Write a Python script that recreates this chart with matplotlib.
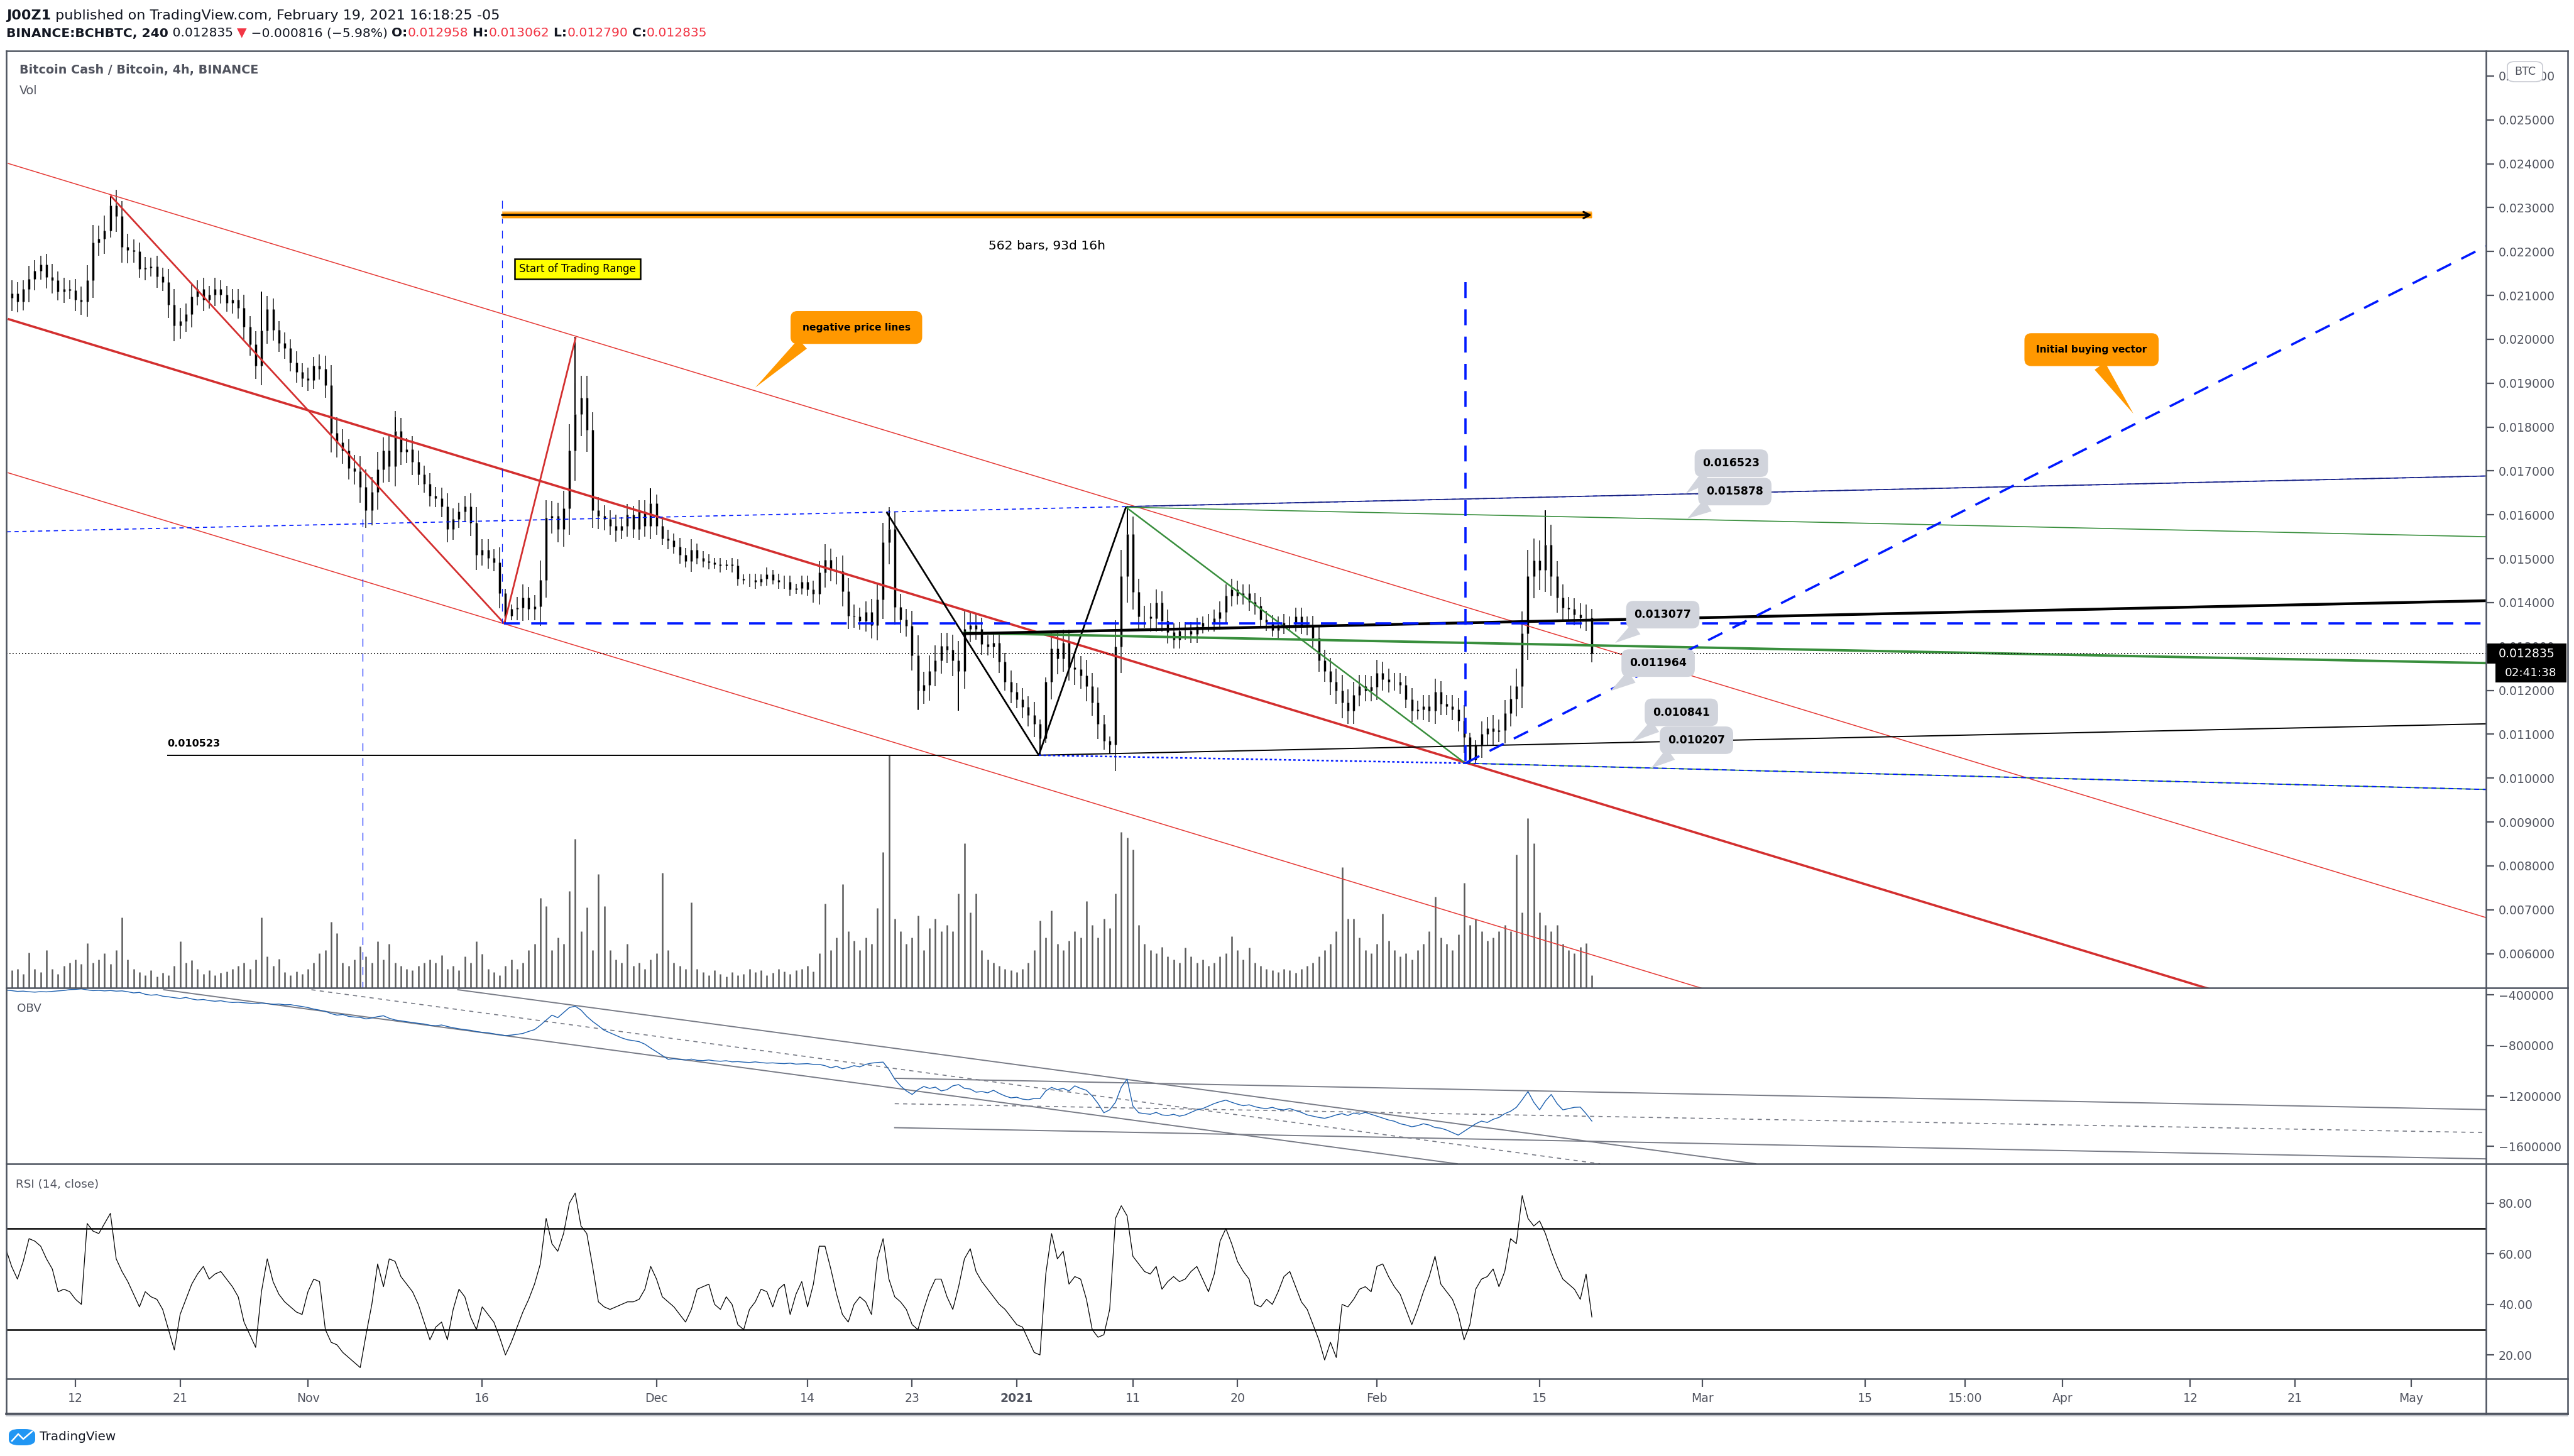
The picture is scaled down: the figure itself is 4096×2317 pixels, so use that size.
import numpy as np
import matplotlib
matplotlib.use('Agg')
import matplotlib.pyplot as plt
from matplotlib.lines import Line2D
from matplotlib.patches import Rectangle, FancyBboxPatch
from matplotlib.ticker import FuncFormatter

plt.rcParams['font.family'] = ['DejaVu Sans']

# ---------------- data (12h bars, x = days since 1 Oct 2020) ----------------
start_day = 5.0

# BCH/BTC close, in 1e-6 BTC
close = [
    20950, 21050, 20860, 21150, 21370, 21560, 21700, 21410, 21340, 21080, 21150, 21120, 20900, 20860, 21340, 22210, 22290, 22470, 23050, 22800,
    22100, 22030, 22000, 21600, 21630, 21660, 21430, 21300, 20790, 20310, 20420, 20570, 20970, 21150, 20900, 21010, 21150, 21010, 20830, 20900,
    20720, 20280, 19880, 19400, 20200, 20680, 20220, 19910, 19800, 19470, 19260, 19110, 19070, 19400, 19330, 18960, 17870, 17650, 17470, 17060,
    16990, 16630, 16110, 16520, 17030, 17470, 17100, 17910, 17430, 17500, 17210, 16920, 16700, 16440, 16370, 16190, 15680, 15900, 16080, 16190,
    15820, 15090, 15200, 15020, 14910, 14220, 13700, 13850, 13880, 14110, 13850, 13920, 14510, 15930, 15970, 15680, 16150, 17470, 18300, 18670,
    17940, 16110, 15970, 15900, 15750, 15640, 15750, 16000, 15680, 16080, 15750, 16260, 15750, 15460, 15420, 15270, 15090, 14950, 15200, 15020,
    14950, 14910, 14870, 14840, 14870, 14840, 14540, 14510, 14510, 14470, 14540, 14650, 14510, 14470, 14470, 14300, 14330, 14470, 14300, 14200,
    14690, 14980, 14740, 14720, 14260, 13700, 13680, 13590, 13780, 13490, 14070, 15370, 15670, 13900, 13610, 13470, 12800, 12000, 12120, 12440,
    12680, 13010, 12920, 12680, 12440, 13400, 13490, 13400, 13060, 12990, 13080, 12650, 12200, 11960, 11800, 11620, 11430, 11240, 10900, 12200,
    12960, 12720, 13080, 12530, 12480, 12340, 12100, 11720, 11240, 10850, 10760, 13000, 14600, 15560, 14240, 13680, 13680, 13640, 14000, 13590,
    13320, 13160, 13350, 13350, 13280, 13450, 13540, 13540, 13640, 13780, 14160, 14300, 14160, 14210, 14020, 13930, 13610, 13560, 13370, 13490,
    13540, 13540, 13680, 13490, 13450, 13200, 12680, 12440, 12200, 12000, 11720, 11530, 11890, 12100, 12000, 12080, 12400, 12250, 12200, 12200,
    12120, 11800, 11530, 11570, 11640, 11530, 11960, 11690, 11640, 11570, 11310, 10930, 10420, 10760, 11000, 11140, 11070, 11090, 11480, 11810,
    12100, 13300, 14600, 14960, 14740, 15320, 14600, 14120, 13880, 13850, 13730, 13660, 13660, 12835,
]

# total wick length of each bar beyond its body, in 1e-4 BTC
wick = [
    5, 6, 5, 4, 6, 5, 4, 5, 6, 4, 5, 4, 5, 6, 7, 8, 6, 7, 3, 7,
    7, 6, 5, 4, 5, 4, 5, 4, 6, 7, 6, 5, 6, 4, 5, 4, 5, 4, 4, 5,
    5, 6, 5, 6, 9, 6, 5, 4, 5, 4, 5, 4, 5, 4, 5, 6, 9, 7, 6, 5,
    6, 7, 8, 7, 8, 6, 7, 9, 6, 5, 6, 5, 4, 5, 4, 5, 6, 5, 4, 5,
    6, 7, 5, 5, 4, 7, 2, 2, 5, 6, 5, 5, 9, 8, 7, 6, 8, 12, 14, 10,
    10, 8, 6, 5, 4, 5, 4, 5, 4, 5, 5, 6, 4, 3, 4, 3, 4, 3, 5, 3,
    3, 3, 2, 3, 2, 3, 3, 2, 3, 3, 2, 3, 2, 3, 3, 3, 2, 3, 3, 4,
    5, 7, 5, 6, 7, 6, 5, 4, 5, 6, 7, 9, 10, 8, 6, 5, 7, 9, 6, 7,
    7, 6, 6, 7, 9, 8, 6, 5, 5, 4, 5, 5, 4, 5, 4, 5, 5, 6, 2, 2,
    8, 7, 6, 6, 7, 6, 7, 6, 7, 4, 2, 12, 12, 12, 8, 6, 5, 6, 6, 5,
    5, 4, 4, 4, 4, 4, 3, 4, 4, 5, 5, 5, 4, 4, 4, 4, 4, 4, 3, 4,
    4, 3, 4, 4, 4, 5, 5, 5, 6, 6, 7, 6, 6, 5, 5, 5, 6, 5, 5, 4,
    4, 4, 5, 4, 5, 5, 6, 5, 4, 5, 5, 7, 2, 2, 6, 5, 6, 5, 6, 6,
    8, 10, 12, 10, 9, 10, 9, 7, 6, 5, 5, 5, 6, 4,
]

# wick extremes of notable bars (day, price in 1e-6 BTC)
spike_day = [14.0, 27.0, 38.5, 54.0, 60.5, 81.0, 101.5, 137.5]
spike_high = [23270, 21080, 18220, 20060, 16600, 16100, 16200, 16100]
dip_day = [48.0, 83.5, 87.0, 94.0, 100.0, 131.0]
dip_low = [13523, 11570, 11530, 10523, 10550, 10350]

# volume (relative units)
volume = [
    20, 28, 30, 22, 56, 30, 25, 60, 30, 22, 35, 40, 45, 38, 71, 40, 45, 55, 38, 60,
    112, 45, 30, 25, 20, 28, 18, 24, 20, 35, 74, 40, 44, 30, 22, 28, 20, 24, 26, 30,
    35, 40, 30, 45, 112, 50, 35, 46, 25, 20, 26, 22, 30, 40, 55, 60, 105, 87, 40, 35,
    45, 66, 50, 40, 74, 45, 70, 40, 35, 30, 28, 35, 40, 45, 40, 52, 30, 35, 28, 50,
    40, 74, 54, 30, 25, 20, 35, 45, 30, 40, 60, 70, 143, 130, 60, 80, 70, 154, 237, 90,
    128, 60, 181, 130, 60, 45, 40, 70, 35, 40, 30, 45, 55, 183, 60, 40, 35, 30, 136, 30,
    25, 20, 28, 22, 18, 25, 20, 22, 30, 25, 28, 20, 24, 30, 26, 22, 28, 30, 35, 26,
    55, 134, 60, 80, 165, 90, 75, 60, 80, 70, 127, 216, 370, 110, 90, 70, 80, 115, 60, 95,
    110, 90, 100, 90, 150, 230, 120, 150, 60, 45, 40, 35, 30, 28, 25, 30, 40, 60, 107, 80,
    123, 70, 60, 75, 90, 80, 138, 100, 80, 110, 95, 150, 248, 239, 220, 100, 70, 60, 55, 65,
    50, 45, 40, 64, 50, 40, 45, 35, 40, 50, 55, 82, 60, 45, 64, 40, 35, 30, 28, 25,
    30, 28, 24, 30, 35, 40, 50, 60, 70, 90, 192, 110, 110, 80, 60, 55, 70, 118, 75, 60,
    50, 55, 45, 60, 70, 90, 145, 80, 70, 60, 85, 167, 100, 110, 90, 75, 80, 90, 100, 90,
    212, 120, 270, 230, 120, 100, 90, 100, 70, 60, 55, 65, 71, 20,
]

# on-balance volume, thousands
obv = [
    -362, -366, -372, -370, -375, -378, -374, -376, -372, -368, -365, -358, -356, -352, -360, -366, -364, -368, -365, -370,
    -368, -375, -384, -380, -395, -402, -398, -410, -415, -422, -428, -420, -432, -440, -436, -445, -450, -446, -455, -460,
    -458, -462, -466, -470, -464, -468, -475, -472, -478, -477, -485, -492, -500, -512, -520, -530, -548, -560, -555, -570,
    -575, -578, -590, -582, -572, -565, -585, -598, -605, -612, -618, -625, -630, -640, -644, -638, -650, -660, -668, -675,
    -680, -690, -696, -700, -708, -715, -722, -718, -712, -705, -689, -675, -640, -600, -560, -580, -540, -500, -489, -520,
    -570, -610, -644, -680, -700, -720, -740, -755, -762, -770, -790, -821, -850, -880, -910, -905, -912, -915, -908, -918,
    -920, -915, -922, -925, -921, -930, -928, -932, -935, -930, -936, -940, -938, -942, -944, -940, -948, -946, -944, -950,
    -950, -960, -977, -965, -985, -975, -960, -970, -950, -940, -935, -932, -990, -1066, -1120, -1160, -1188, -1150, -1125, -1140,
    -1130, -1160, -1150, -1120, -1110, -1140, -1145, -1170, -1165, -1175, -1155, -1180, -1200, -1215, -1210, -1225, -1230, -1220, -1221, -1160,
    -1132, -1150, -1140, -1160, -1120, -1140, -1155, -1200, -1260, -1333, -1310, -1250, -1130, -1066, -1280, -1333, -1340, -1345, -1330, -1350,
    -1355, -1345, -1360, -1350, -1330, -1310, -1300, -1280, -1260, -1245, -1233, -1250, -1265, -1277, -1270, -1285, -1295, -1300, -1290, -1305,
    -1310, -1300, -1315, -1330, -1350, -1360, -1370, -1377, -1365, -1350, -1340, -1355, -1335, -1344, -1330, -1345, -1360, -1375, -1390, -1400,
    -1420, -1430, -1444, -1435, -1420, -1430, -1450, -1455, -1470, -1490, -1510, -1480, -1450, -1420, -1399, -1410, -1385, -1370, -1340, -1321,
    -1290, -1230, -1165, -1250, -1310, -1240, -1188, -1260, -1310, -1300, -1290, -1288, -1340, -1399,
]

# RSI (14, close)
rsi = [
    62, 55, 50, 57, 66, 65, 63, 58, 54, 45, 46, 45, 42, 40, 72, 69, 68, 72, 76, 58,
    53, 49, 44, 39, 45, 43, 42, 38, 30, 22, 36, 42, 48, 52, 55, 50, 52, 53, 50, 47,
    43, 33, 28, 23, 45, 58, 49, 44, 41, 39, 37, 36, 45, 50, 49, 30, 25, 24, 21, 19,
    17, 15, 28, 40, 56, 47, 58, 57, 51, 48, 45, 40, 33, 26, 31, 33, 26, 38, 46, 43,
    35, 30, 39, 36, 33, 27, 20, 25, 31, 37, 42, 48, 56, 74, 64, 61, 68, 80, 84, 71,
    68, 55, 41, 39, 38, 39, 40, 41, 41, 42, 46, 55, 50, 43, 41, 39, 36, 33, 38, 46,
    47, 48, 40, 38, 43, 40, 32, 30, 38, 41, 46, 45, 39, 46, 48, 36, 44, 49, 39, 48,
    63, 63, 54, 44, 36, 33, 40, 43, 41, 36, 58, 66, 50, 43, 41, 38, 32, 30, 38, 45,
    50, 50, 43, 38, 47, 58, 62, 53, 49, 46, 43, 40, 38, 35, 32, 31, 26, 21, 20, 52,
    68, 58, 61, 48, 51, 50, 42, 30, 27, 28, 38, 74, 79, 75, 59, 56, 53, 52, 55, 46,
    49, 51, 49, 50, 53, 55, 50, 45, 52, 65, 70, 64, 57, 53, 50, 40, 39, 42, 40, 45,
    51, 53, 47, 41, 38, 32, 26, 18, 25, 19, 40, 39, 42, 46, 47, 45, 55, 56, 51, 47,
    44, 38, 32, 38, 45, 51, 59, 48, 45, 42, 36, 26, 32, 46, 50, 51, 54, 47, 53, 66,
    64, 83, 74, 71, 73, 68, 61, 55, 50, 48, 46, 42, 52, 35,
]

# time axis
tick_days = [11, 20, 31, 46, 61, 74, 83, 92, 102, 111, 123, 137, 151, 165, 173.6, 182, 193, 202, 212]
tick_text = ['12', '21', 'Nov', '16', 'Dec', '14', '23', '2021', '11', '20', 'Feb',
             '15', 'Mar', '15', '15:00', 'Apr', '12', '21', 'May']

price_ticks = [0.006 + 0.001 * i for i in range(21)]
obv_ticks = [-1600000, -1200000, -800000, -400000]
rsi_ticks = [20, 40, 60, 80]

# drawings: (day, price) points
red_upper = [(5.17, 0.024009), (218.45, 0.006823)]
red_mid = [(5.17, 0.020464), (218.45, 0.003278)]
red_low = [(5.17, 0.016960), (218.45, -0.000226)]
red_zigzag = [(14.0, 0.023276), (47.9, 0.013523), (54.05, 0.020045)]
blue_long = [(5.07, 0.015613), (218.45, 0.016885)]
navy_top = [(101.4, 0.016188), (218.45, 0.016885)]
green_top = [(101.4, 0.016174), (218.45, 0.015501)]
green_diag = [(101.4, 0.016174), (130.6, 0.010340)]
black_zigzag = [(80.8, 0.016062), (93.9, 0.010523), (101.4, 0.016174)]
support = [(18.9, 0.010523), (93.9, 0.010523)]
black_rise = [(93.9, 0.010523), (218.45, 0.011238)]
black_thick = [(87.4, 0.013291), (218.45, 0.014043)]
green_thick = [(87.4, 0.013310), (218.45, 0.012622)]
range_low = [(47.9, 0.013523), (218.45, 0.013523)]
buy_vector = [(130.6, 0.010340), (218.45, 0.022120)]
blue_dotted = [(93.9, 0.010523), (130.6, 0.010340)]
green_low = [(130.6, 0.010340), (218.45, 0.009742)]
vline_thin = [(35.7, 0.0159, 0.0052), (47.7, 0.02317, 0.013523)]
vline_thick = [(130.6, 0.02130, 0.010340)]
date_range = [(47.7, 0.022831), (141.5, 0.022831)]

price_callouts = [  # text, box centre, tip
    ('0.016523', (153.5, 0.017177), (149.6, 0.016492)),
    ('0.015878', (153.8, 0.016530), (149.7, 0.015913)),
    ('0.013077', (147.6, 0.013725), (143.5, 0.013082)),
    ('0.011964', (147.2, 0.012622), (143.1, 0.011986)),
    ('0.010841', (149.2, 0.011500), (145.0, 0.010834)),
    ('0.010207', (150.5, 0.010864), (146.6, 0.010228)),
]

obv_lines = [
    [(18.6, -359e3), (129.9, -1737e3)],
    [(43.9, -359e3), (155.6, -1737e3)],
    [(81.5, -1060e3), (218.45, -1308e3)],
    [(81.5, -1451e3), (218.45, -1698e3)],
]
obv_dashed = [
    [(31.3, -359e3), (142.2, -1737e3)],
    [(81.5, -1261e3), (218.45, -1490e3)],
]

# ---------------- layout ----------------
W, H = 4096.0, 2317.0
fig = plt.figure(figsize=(W / 200, H / 200), dpi=200)
fig.patch.set_facecolor('white')


def fx(px):
    return px / W


def fy(py):
    return 1 - py / H


X0, X1, XR = 10, 3956, 4086
Y_TOP, Y_PRICE, Y_OBV, Y_RSI, Y_TIME = 81, 1572, 1852, 2194, 2250
AXC = '#50535e'
FRAME = '#4c525e'


def pane(ytop, ybot, **kw):
    return fig.add_axes([fx(X0), fy(ybot), (X1 - X0) / W, (ybot - ytop) / H], **kw)


ax = pane(Y_TOP, Y_PRICE)
ax_obv = pane(Y_PRICE, Y_OBV, sharex=ax)
ax_rsi = pane(Y_OBV, Y_RSI, sharex=ax)
ax_t = pane(Y_RSI, Y_TIME, sharex=ax)
ax_vol = ax.twinx()
ax_vol.axis('off')
ax.set_zorder(ax_vol.get_zorder() + 1)
ax.patch.set_visible(False)

for a in (ax, ax_obv, ax_rsi, ax_t):
    for s in a.spines.values():
        s.set_visible(False)
    a.tick_params(axis='x', bottom=False, labelbottom=False)

ax.set_xlim(5.04, 218.45)
ax.set_ylim(0.005222, 0.026571)
ax_obv.set_ylim(-1737e3, -344e3)
ax_rsi.set_ylim(10.6, 95.6)
ax_t.set_ylim(0, 1)
ax_t.set_yticks([])

for a in (ax, ax_obv, ax_rsi):
    a.yaxis.tick_right()
    a.tick_params(axis='y', right=True, left=False, direction='out', length=4.7, width=0.8,
                  color=AXC, labelsize=6.8, labelcolor=AXC, pad=2.5)
ax.set_yticks(price_ticks)
ax.yaxis.set_major_formatter(FuncFormatter(lambda v, p: f'{v:.6f}'))
ax_obv.set_yticks(obv_ticks)
ax_obv.yaxis.set_major_formatter(FuncFormatter(lambda v, p: f'{int(v)}'.replace('-', '\u2212')))
ax_rsi.set_yticks(rsi_ticks)
ax_rsi.yaxis.set_major_formatter(FuncFormatter(lambda v, p: f'{v:.2f}'))

ax_t.set_xticks(tick_days)
ax_t.tick_params(axis='x', top=True, bottom=False, direction='in', length=4.7, width=0.8,
                 color=AXC, labeltop=False, labelbottom=False)
for d, s in zip(tick_days, tick_text):
    ax_t.text(d, 0.43, s, ha='center', va='center', fontsize=6.8, color=AXC,
              fontweight='bold' if s == '2021' else 'normal',
              transform=ax_t.get_xaxis_transform())

# ---------------- price bars + volume ----------------
c = np.array(close) / 1e6
days = start_day + 0.5 * np.arange(len(c))
assert len(volume) == len(c) and len(obv) == len(c) and len(rsi) == len(c) and len(wick) == len(c), \
    (len(c), len(volume), len(obv), len(rsi), len(wick))

ax_vol.set_ylim(0, max(volume) * 4.03)
ax_vol.vlines(days, 0, volume, color='#5a5a5a', lw=0.9)

o = np.concatenate([[c[0]], c[:-1]])
body_lo = np.minimum(o, c)
body_hi = np.maximum(o, c)
w = np.array(wick) / 1e4 / 2
ax.vlines(days, body_lo - w, body_hi + w, color='#222222', lw=0.55, zorder=3)
ax.vlines(days, body_lo, body_hi, color='black', lw=1.25, zorder=3)
idx = ((np.array(spike_day) - start_day) / 0.5).astype(int)
ax.vlines(spike_day, c[idx], np.array(spike_high) / 1e6, color='black', lw=0.7, zorder=3)
idx = ((np.array(dip_day) - start_day) / 0.5).astype(int)
ax.vlines(dip_day, np.array(dip_low) / 1e6, c[idx], color='black', lw=0.7, zorder=3)


def draw(pts, **kw):
    xs, ys = zip(*pts)
    ax.plot(xs, ys, solid_capstyle='butt', **kw)


RED = '#e53935'
BLUE = '#0019ff'
GREEN = '#388e3c'
draw(red_upper, color=RED, lw=0.55, zorder=4)
draw(red_low, color=RED, lw=0.55, zorder=4)
draw(red_mid, color='#d32f2f', lw=1.3, zorder=4)
draw(red_zigzag, color='#d32f2f', lw=1.0, zorder=4)
draw(blue_long, color=BLUE, lw=0.6, dashes=(4, 3.5), zorder=4)
draw(navy_top, color='#1a237e', lw=0.6, zorder=4)
draw(green_top, color=GREEN, lw=0.6, zorder=4)
draw(green_diag, color=GREEN, lw=0.9, zorder=4)
draw(black_zigzag, color='black', lw=1.0, zorder=4)
draw(support, color='black', lw=0.7, zorder=4)
draw(black_rise, color='black', lw=0.7, zorder=4)
draw(green_thick, color=GREEN, lw=1.4, zorder=4)
draw(black_thick, color='black', lw=1.6, zorder=4)
draw(range_low, color=BLUE, lw=1.3, dashes=(7, 5), zorder=5)
draw(buy_vector, color=BLUE, lw=1.3, dashes=(7, 5), zorder=5)
draw(blue_dotted, color=BLUE, lw=0.9, dashes=(1.5, 1.5), zorder=4)
draw(green_low, color=GREEN, lw=0.6, zorder=4)
draw(green_low, color=BLUE, lw=0.7, dashes=(4, 3), zorder=4)
for d, p0, p1 in vline_thin:
    ax.plot([d, d], [p0, p1], color=BLUE, lw=0.45, dashes=(10, 9), zorder=4)
for d, p0, p1 in vline_thick:
    ax.plot([d, d], [p0, p1], color=BLUE, lw=1.3, dashes=(7, 5), zorder=5)

last = c[-1]
ax.axhline(last, color='black', lw=0.6, dashes=(1, 2), zorder=4)

# date range measure
(dr0, drp), (dr1, _) = date_range
ax.plot([dr0, dr1], [drp, drp], color='#ffd59a', lw=4.4, solid_capstyle='butt', zorder=5)
ax.plot([dr0, dr1], [drp, drp], color='#ff9800', lw=3.2, solid_capstyle='butt', zorder=5)
ax.annotate('', xy=(dr1, drp), xytext=(dr0, drp),
            arrowprops=dict(arrowstyle='->', color='black', lw=1.1, mutation_scale=9,
                            shrinkA=0, shrinkB=0), zorder=6)
ax.text((dr0 + dr1) / 2, 0.022120, '562 bars, 93d 16h', ha='center', va='center',
        fontsize=7.3, color='black', zorder=6)

ax.text(54.2, 0.021601, 'Start of Trading Range', ha='center', va='center', fontsize=6.0,
        color='black', zorder=6,
        bbox=dict(boxstyle='square,pad=0.4', fc='#ffff00', ec='black', lw=0.9))

ax.text(support[0][0], 0.010789, f'{support[0][1]:.6f}', ha='left', va='center',
        fontsize=5.8, fontweight='bold', color='black', zorder=6)


def callout(text, box, tip, fc, size, pad, rel):
    ax.annotate(text, xy=tip, xytext=box, ha='center', va='center', fontsize=size,
                fontweight='bold', color='black', zorder=7,
                bbox=dict(boxstyle=f'round,pad={pad},rounding_size=0.7', fc=fc, ec='none'),
                arrowprops=dict(arrowstyle='wedge,tail_width=1.3,shrink_factor=0.5', fc=fc,
                                ec='none', shrinkA=0, shrinkB=0, relpos=rel))


callout('negative price lines', (78.2, 0.020269), (69.5, 0.018900), '#ff9800', 5.6, 1.2, (0.12, 0.0))
callout('Initial buying vector', (184.5, 0.019764), (188.1, 0.018306), '#ff9800', 5.6, 1.2, (0.5, 0.0))
for t, box, tip in price_callouts:
    callout(t, box, tip, '#d1d4dc', 6.2, 0.75, (0.25, 0.0))

# ---------------- OBV ----------------
ax_obv.plot(days, np.array(obv) * 1000, color='#1c5fae', lw=0.5, zorder=3)
for pts in obv_lines:
    xs, ys = zip(*pts)
    ax_obv.plot(xs, ys, color='#787b86', lw=0.7, zorder=2)
for pts in obv_dashed:
    xs, ys = zip(*pts)
    ax_obv.plot(xs, ys, color='#787b86', lw=0.6, dashes=(4, 4), zorder=2)

# ---------------- RSI ----------------
ax_rsi.plot(days, rsi, color='black', lw=0.45, zorder=3)
for lvl in (70, 30):
    ax_rsi.axhline(lvl, color='black', lw=0.9, zorder=2)


# ---------------- frame ----------------
def fline(x0, y0, x1, y1, lw=0.9, color=FRAME):
    fig.add_artist(Line2D([fx(x0), fx(x1)], [fy(y0), fy(y1)], transform=fig.transFigure,
                          color=color, lw=lw, zorder=8))


fline(X0, Y_TOP, XR, Y_TOP)
fline(X0, Y_TOP, X0, Y_TIME)
fline(XR, Y_TOP, XR, Y_TIME)
fline(X1, Y_TOP, X1, Y_TIME)
for yy in (Y_PRICE, Y_OBV, Y_RSI):
    fline(X0, yy, XR, yy)
fline(X0, Y_TIME, XR, Y_TIME, lw=1.3)
fline(X0, Y_TIME + 3, XR, Y_TIME + 3, lw=0.6, color='#b2b5be')

# current price + countdown boxes on the scale
fig.canvas.draw()
ypx = ax.transData.transform((ax.get_xlim()[0], last))[1]
fig.add_artist(Rectangle((fx(3958), (ypx - 16) / H), fx(4084 - 3958), 32 / H,
                         transform=fig.transFigure, fc='black', ec='none', zorder=9))
fig.text(fx(3976), ypx / H, f'{last:.6f}', color='white', fontsize=6.8, va='center',
         ha='left', zorder=10)
fig.add_artist(Rectangle((fx(3971), (ypx - 46) / H), fx(4084 - 3971), 30 / H,
                         transform=fig.transFigure, fc='black', ec='none', zorder=9))
fig.text(fx(3986), (ypx - 31) / H, '02:41:38', color='white', fontsize=6.6, va='center',
         ha='left', zorder=10)

fig.add_artist(FancyBboxPatch((fx(3990), fy(130)), fx(56), 32 / H,
                              boxstyle='round,pad=0,rounding_size=0.003',
                              transform=fig.transFigure, fc='white', ec='#c9cbd3', lw=0.6, zorder=9))
fig.text(fx(4018), fy(114), 'BTC', color=AXC, fontsize=6.3, ha='center', va='center', zorder=10)

# ---------------- texts ----------------
fig.text(fx(31), fy(112), 'Bitcoin Cash / Bitcoin, 4h, BINANCE', fontsize=6.9,
         fontweight='bold', color=AXC, va='center')
fig.text(fx(31), fy(144), 'Vol', fontsize=6.9, color=AXC, va='center')
fig.text(fx(27), fy(1605), 'OBV', fontsize=6.6, color=AXC, va='center')
fig.text(fx(25), fy(1885), 'RSI (14, close)', fontsize=6.6, color=AXC, va='center')

renderer = fig.canvas.get_renderer()


def pieces(x_px, y_px, parts, size):
    x = fx(x_px)
    for txt, color, weight in parts:
        t = fig.text(x, fy(y_px), txt, color=color, fontweight=weight, fontsize=size,
                     va='center', ha='left')
        x += t.get_window_extent(renderer=renderer).width / fig.bbox.width


INK = '#131722'
UP_RED = '#f23645'
pieces(10, 25, [('J00Z1', INK, 'bold'),
                (' published on TradingView.com, February 19, 2021 16:18:25 -05', INK, 'normal')], 8.0)
pieces(10, 53, [('BINANCE:BCHBTC, 240', INK, 'bold'), (' 0.012835 ', INK, 'normal'),
                ('\u25bc', UP_RED, 'normal'), (' \u22120.000816 (\u22125.98%) ', INK, 'normal'),
                ('O:', INK, 'bold'), ('0.012958', UP_RED, 'normal'),
                (' H:', INK, 'bold'), ('0.013062', UP_RED, 'normal'),
                (' L:', INK, 'bold'), ('0.012790', UP_RED, 'normal'),
                (' C:', INK, 'bold'), ('0.012835', UP_RED, 'normal')], 7.3)

# TradingView logo
fig.add_artist(FancyBboxPatch((fx(14), fy(2300)), fx(42), 26 / H,
                              boxstyle='round,pad=0,rounding_size=0.004',
                              transform=fig.transFigure, fc='#2196f3', ec='none', zorder=9))
fig.add_artist(Line2D([fx(19), fx(29), fx(37), fx(51)], [fy(2293), fy(2282), fy(2290), fy(2278)],
                      transform=fig.transFigure, color='white', lw=0.9, zorder=10))
fig.text(fx(63), fy(2287), 'TradingView', fontsize=7.2, color=INK, va='center')

fig.savefig('out.png', dpi=200, facecolor='white')
